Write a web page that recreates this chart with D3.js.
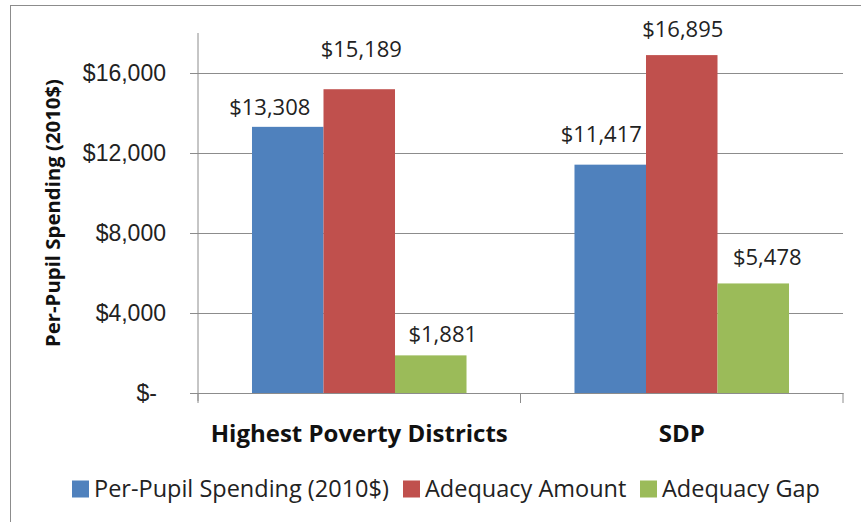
<!DOCTYPE html>
<html>
<head>
<meta charset="utf-8">
<script src="https://cdn.jsdelivr.net/npm/d3@7"></script>
<style>
  body { margin: 0; background: #fff; }
  svg { display: block; font-family: "Open Sans", "Noto Sans", sans-serif; }
</style>
</head>
<body>
<div id="chart"></div>
<script>
const categories = ["Highest Poverty Districts", "SDP"];
const seriesNames = ["Per-Pupil Spending (2010$)", "Adequacy Amount", "Adequacy Gap"];
const perPupilSpending = [13308, 11417];
const adequacyAmount = [15189, 16895];
const adequacyGap = [1881, 5478];
const yTicks = [0, 4000, 8000, 12000, 16000];
const colors = ["#4F81BD", "#C0504D", "#9BBB59"];

// hand-placed label nudges from the original chart [dx, gap above bar]
const labelNudge = [
    [[-18, 12], [2, 32], [12, 13]],
    [[-9, 23], [1, 18], [14, 18]]
];

const seriesValues = [perPupilSpending, adequacyAmount, adequacyGap];
const rows = categories.map((cat, i) => ({
    cat: cat,
    vals: seriesNames.map((s, j) => ({ series: s, value: seriesValues[j][i], nudge: labelNudge[i][j] }))
}));

const width = 861, height = 522;
const padding = { top: 33, right: 18, bottom: 129, left: 198 },
      chartWidth = width - padding.left - padding.right,
      chartHeight = height - padding.top - padding.bottom;

const svg = d3.select("#chart").append("svg")
    .attr("width", width)
    .attr("height", height);

// outer frame
svg.append("rect")
    .attr("x", 10.5).attr("y", 5.5)
    .attr("width", 860).attr("height", 530)
    .attr("fill", "none")
    .attr("stroke", "#8c8c8c");

const g = svg.append("g")
    .attr("transform", `translate(${padding.left},${padding.top})`);

const x0 = d3.scaleBand().domain(categories).range([0, chartWidth]).padding(0);
const x1 = d3.scaleBand().domain(seriesNames).range([0, x0.bandwidth()]).paddingInner(0).paddingOuter(0.755);
const y = d3.scaleLinear().domain([0, 18000]).range([chartHeight, 0]);
const color = d3.scaleOrdinal().domain(seriesNames).range(colors);

const fmt = d3.format("$,");

// gridlines + y axis
const yAxis = g.append("g")
    .call(d3.axisLeft(y).tickValues(yTicks).tickSize(-chartWidth).tickSizeOuter(0)
        .tickFormat(d => d === 0 ? "$-" : fmt(d)));
yAxis.select(".domain").remove();
yAxis.selectAll(".tick line")
    .attr("x1", -8)
    .attr("stroke", "#8c8c8c");
yAxis.selectAll(".tick text")
    .attr("x", d => d === 0 ? -41 : -32)
    .attr("fill", "#222")
    .style("font-size", "23px");

g.append("line")
    .attr("x1", 0).attr("x2", 0)
    .attr("y1", 0).attr("y2", chartHeight + 8)
    .attr("stroke", "#8c8c8c");

// x axis
const xAxis = g.append("g")
    .attr("transform", `translate(0,${chartHeight})`)
    .call(d3.axisBottom(x0).tickSize(0).tickFormat(""));
xAxis.select(".domain").attr("stroke", "#8c8c8c");
xAxis.selectAll(".tick").remove();
[0, x0.bandwidth(), chartWidth].forEach(xp => {
    xAxis.append("line")
        .attr("x1", xp).attr("x2", xp)
        .attr("y1", 0).attr("y2", 10)
        .attr("stroke", "#8c8c8c");
});

g.selectAll(".cat-label")
    .data(categories)
    .enter().append("text")
    .attr("class", "cat-label")
    .attr("x", d => x0(d) + x0.bandwidth() / 2)
    .attr("y", chartHeight + 49)
    .attr("text-anchor", "middle")
    .style("font-size", "24px")
    .style("font-weight", "bold")
    .attr("fill", "#111")
    .text(d => d);

// bars
const groups = g.selectAll(".group")
    .data(rows)
    .enter().append("g")
    .attr("class", "group")
    .attr("transform", d => `translate(${x0(d.cat)},0)`);

groups.selectAll("rect")
    .data(d => d.vals)
    .enter().append("rect")
    .attr("x", d => x1(d.series))
    .attr("y", d => y(d.value))
    .attr("width", x1.bandwidth())
    .attr("height", d => chartHeight - y(d.value))
    .attr("fill", d => color(d.series));

groups.selectAll(".bar-label")
    .data(d => d.vals)
    .enter().append("text")
    .attr("class", "bar-label")
    .attr("x", d => x1(d.series) + x1.bandwidth() / 2 + d.nudge[0])
    .attr("y", d => y(d.value) - d.nudge[1])
    .attr("text-anchor", "middle")
    .attr("fill", "#222")
    .style("font-size", "22px")
    .text(d => fmt(d.value));

// y axis title, sized to span the same length as the original
const yTitle = svg.append("text")
    .attr("transform", `translate(60,213) rotate(-90)`)
    .attr("text-anchor", "middle")
    .style("font-size", "16px")
    .style("font-weight", "bold")
    .attr("fill", "#111")
    .text("Per-Pupil Spending (2010$)");
const titleLen = yTitle.node().getComputedTextLength();
if (titleLen > 0) yTitle.style("font-size", (16 * 268 / titleLen).toFixed(2) + "px");

// legend
const legendX = [72, 403, 640];
const legend = svg.append("g").attr("transform", "translate(0,489)");
const items = legend.selectAll(".item")
    .data(seriesNames)
    .enter().append("g")
    .attr("class", "item")
    .attr("transform", (d, i) => `translate(${legendX[i]},0)`);
items.append("rect")
    .attr("x", 0).attr("y", -8.5)
    .attr("width", 17).attr("height", 17)
    .attr("fill", d => color(d));
items.append("text")
    .attr("x", 22).attr("y", 0)
    .attr("dy", "0.35em")
    .attr("fill", "#222")
    .style("font-size", "23.5px")
    .text(d => d);
</script>
</body>
</html>
